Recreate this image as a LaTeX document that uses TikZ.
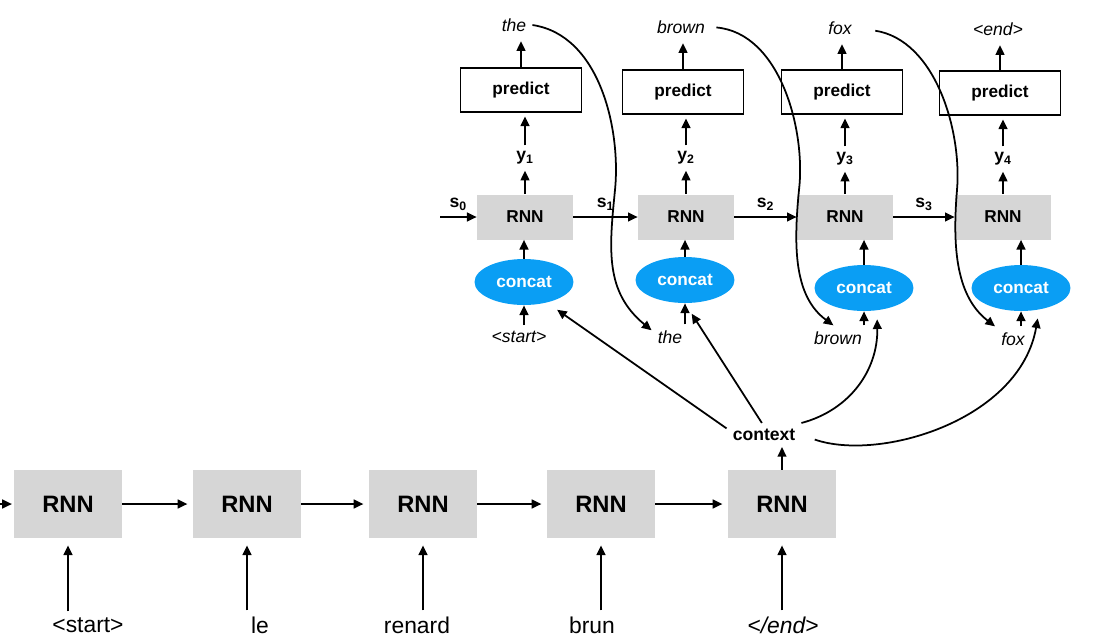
\documentclass[tikz,border=0pt]{standalone}
\usepackage{fontspec}
\setmainfont{Liberation Sans}
\usetikzlibrary{shapes.geometric,arrows.meta}
\definecolor{boxgray}{HTML}{D6D6D6}
\definecolor{concatblue}{HTML}{0A9EF4}

\begin{document}
\begin{tikzpicture}[x=0.02cm, y=-0.02cm,
      enc/.style={rectangle, fill=boxgray, minimum width=2.16cm, minimum height=1.36cm, font=\fontsize{13.5}{16}\selectfont\bfseries},
      dec/.style={rectangle, fill=boxgray, minimum width=1.92cm, minimum height=0.9cm, font=\fontsize{9.8}{12}\selectfont\bfseries},
      pred/.style={rectangle, draw, line width=1pt, minimum width=2.42cm, minimum height=0.88cm, font=\fontsize{9.8}{12}\selectfont\bfseries},
      cat/.style={ellipse, fill=concatblue, text=white, inner sep=0pt, minimum width=1.98cm, minimum height=0.92cm, font=\fontsize{9.8}{12}\selectfont\bfseries},
      word/.style={font=\fontsize{10}{12}\selectfont\itshape},
      src/.style={font=\fontsize{13}{16}\selectfont},
      lab/.style={font=\fontsize{10}{12}\selectfont\bfseries},
      arr/.style={-{Triangle[length=5.5pt,width=5pt]}, line width=1pt}]
      \useasboundingbox (0,0) rectangle (1096,640);
      \coordinate(h0) at (0,504);
      \node[enc](b1) at (68,504){RNN};
      \node[enc](b2) at (247,504){RNN};
      \node[enc](b3) at (423,504){RNN};
      \node[enc](b4) at (601,504){RNN};
      \node[enc](b5) at (782,504){RNN};
      \node[src](x1) at (88,625){<start>};
      \node[src](x2) at (260,625){le};
      \node[src](x3) at (417,625){renard};
      \node[src](x4) at (592,625){brun};
      \node[src,font=\fontsize{13}{16}\selectfont\itshape](x5) at (783,625){</end>};
      \node[lab](ctx) at (764,435){context};
      \coordinate(in0) at (440,217);
      \node[dec](r1) at (525,217){RNN};
      \node[dec](r2) at (686,217){RNN};
      \node[dec](r3) at (845,217){RNN};
      \node[dec](r4) at (1003,217){RNN};
      \node[cat](c1) at (524,282){concat};
      \node[cat](c2) at (685,280){concat};
      \node[cat](c3) at (864,288){concat};
      \node[cat](c4) at (1021,288){concat};
      \node[word](i1) at (519,337){<start>};
      \node[word](i2) at (670,337){the};
      \node[word](i3) at (838,338){brown};
      \node[word](i4) at (1013,339){fox};
      \node[lab](y1) at (525,158){y\textsubscript{1}};
      \node[lab](y2) at (686,158){y\textsubscript{2}};
      \node[lab](y3) at (845,159){y\textsubscript{3}};
      \node[lab](y4) at (1003,159){y\textsubscript{4}};
      \node[pred](p1) at (521,90){predict};
      \node[pred](p2) at (683,92){predict};
      \node[pred](p3) at (842,92){predict};
      \node[pred](p4) at (1000,93){predict};
      \node[word](o1) at (514,25){the};
      \node[word](o2) at (681,27){brown};
      \node[word](o3) at (840,28){fox};
      \node[word](o4) at (998,29){<end>};
      \draw[arr,shorten >=1pt] (h0) -- (b1);
      \draw[arr,shorten >=3pt] (b1) edge (b2);
      \draw[arr,shorten >=3pt] (b2) edge (b3);
      \draw[arr,shorten >=3pt] (b3) edge (b4);
      \draw[arr,shorten >=3pt] (b4) edge (b5);
      \draw[arr,shorten >=4pt] (b1 |- x1.north) -- (b1.south);
      \draw[arr,shorten >=4pt] (b2 |- x2.north) -- (b2.south);
      \draw[arr,shorten >=4pt] (b3 |- x3.north) -- (b3.south);
      \draw[arr,shorten >=4pt] (b4 |- x4.north) -- (b4.south);
      \draw[arr,shorten >=4pt] (b5 |- x5.north) -- (b5.south);
      \draw[arr] (b5) edge (b5 |- ctx.south);
      \draw[arr] (in0) -- node[lab,above]{s\textsubscript{0}} (r1);
      \draw[arr] (r1) edge node[lab,above]{s\textsubscript{1}} (r2);
      \draw[arr] (r2) edge node[lab,above]{s\textsubscript{2}} (r3);
      \draw[arr] (r3) edge node[lab,above]{s\textsubscript{3}} (r4);
      \draw[arr] (c1) edge (c1 |- r1.south);
      \draw[arr] (c2) edge (c2 |- r2.south);
      \draw[arr] (c3) edge (c3 |- r3.south);
      \draw[arr] (c4) edge (c4 |- r4.south);
      \draw[arr] (c1 |- i1.north) -- (c1.south);
      \draw[arr] (c2 |- i2.north) -- (c2.south);
      \draw[arr] (c3 |- i3.north) -- (c3.south);
      \draw[arr] (c4 |- i4.north) -- (c4.south);
      \draw[arr] (r1) edge (y1);
      \draw[arr] (r2) edge (y2);
      \draw[arr] (r3) edge (y3);
      \draw[arr] (r4) edge (y4);
      \draw[arr,shorten >=2pt] (y1) edge (y1 |- p1.south);
      \draw[arr,shorten >=2pt] (y2) edge (y2 |- p2.south);
      \draw[arr,shorten >=2pt] (y3) edge (y3 |- p3.south);
      \draw[arr,shorten >=2pt] (y4) edge (y4 |- p4.south);
      \draw[arr,shorten >=2pt] (p1) edge (p1 |- o1.south);
      \draw[arr,shorten >=2pt] (p2) edge (p2 |- o2.south);
      \draw[arr,shorten >=2pt] (p3) edge (p3 |- o3.south);
      \draw[arr,shorten >=2pt] (p4) edge (p4 |- o4.south);
      \draw[arr] (o1.east) .. controls (600,35) and (621,130) .. (615,190) .. controls (609,250) and (605,292) .. (i2.160);
      \draw[arr,shorten <=3pt] (o2.east) .. controls (780,33) and (806,130) .. (799,190) .. controls (793,250) and (795,297) .. (i3.110);
      \draw[arr,shorten <=10pt] (o3.east) .. controls (935,40) and (962,130) .. (957,190) .. controls (952,250) and (957,297) .. (i4.north west);
      \draw[arr,shorten >=7pt] (ctx.170) -- (c1.-42);
      \draw[arr,shorten >=7pt] (ctx.100) -- (c2.south);
      \draw[arr,shorten >=5pt] (ctx.north east) .. controls (850,410) and (878,370) .. (c3.-60);
      \draw[arr,shorten <=8pt,shorten >=5pt] (ctx.east) .. controls (880,462) and (1020,420) .. (c4.-50);
    \end{tikzpicture}
\end{document}
